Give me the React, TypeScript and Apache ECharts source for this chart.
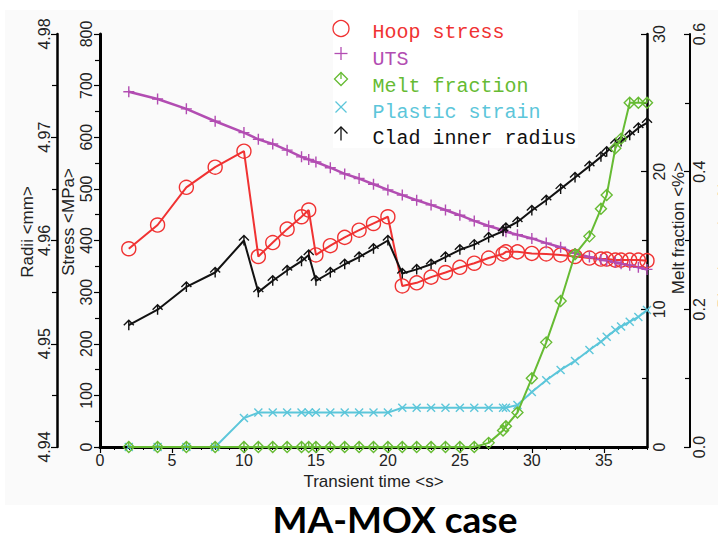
import React, { useEffect, useRef } from "react";
import * as echarts from "echarts";

const W = 718;
const H = 539;

// Transient time steps (s)
const TIME = [
  2, 4, 6, 8, 10, 11, 12, 13, 14, 14.5, 15, 16, 17, 18, 19, 20, 21, 22, 23, 24,
  25, 26, 27, 28, 28.2, 29, 30, 31, 32, 33, 34, 34.8, 35.2, 35.8, 36.2, 36.8,
  37.4, 38,
];

// Hoop stress (MPa)
const HOOP = [
  384, 430, 503, 542, 573, 369, 396, 422, 446, 459, 372, 390, 406, 420, 433, 446,
  312, 318, 329, 338, 348, 356, 366, 374, 378, 378, 375, 374, 372, 369, 366, 364,
  364, 362, 362, 362, 362, 361,
];

// Ultimate tensile strength (MPa)
const UTS = [
  688, 674, 655, 631, 609, 596, 587, 575, 562, 557, 552, 541, 529, 520, 509, 498,
  488, 478, 469, 459, 449, 438, 428, 420, 417, 411, 404, 395, 387, 375, 368, 363,
  361, 358, 355, 352, 348, 344,
];

// Melt fraction (%)
const MELT = [
  0, 0, 0, 0, 0, 0, 0, 0, 0, 0, 0, 0, 0, 0, 0, 0, 0, 0, 0, 0, 0, 0, 0.3, 1.2,
  1.5, 2.5, 5.0, 7.6, 10.6, 14.0, 15.3, 17.3, 18.3, 21.7, 22.4, 25.0, 25.0, 25.0,
];

// Plastic strain (%)
const PLASTIC = [
  0, 0, 0, 0, 0.042, 0.05, 0.05, 0.05, 0.05, 0.05, 0.05, 0.05, 0.05, 0.05, 0.05,
  0.05, 0.057, 0.057, 0.057, 0.057, 0.057, 0.057, 0.057, 0.057, 0.057, 0.061,
  0.08, 0.097, 0.112, 0.125, 0.141, 0.153, 0.16, 0.17, 0.175, 0.182, 0.189, 0.199,
];

// Clad inner radius (mm)
const RADIUS = [
  4.9518, 4.9533, 4.9555, 4.9569, 4.96, 4.955, 4.9561, 4.9571, 4.958, 4.9586,
  4.9561, 4.9569, 4.9577, 4.9584, 4.9592, 4.96, 4.9568, 4.9572, 4.9577, 4.9584,
  4.9591, 4.9596, 4.9603, 4.9609, 4.9612, 4.9618, 4.9629, 4.9639, 4.965, 4.9661,
  4.9672, 4.9681, 4.9686, 4.9694, 4.9696, 4.9702, 4.9709, 4.9714,
];

const RED = "#f03232";
const PURPLE = "#b24db2";
const GREEN = "#66bb33";
const CYAN = "#5cc6da";
const BLACK = "#111111";

const SANS = "'Liberation Sans', Arial, sans-serif";
const MONO = "'Liberation Mono', 'DejaVu Sans Mono', monospace";

const SYM_PLUS = "path://M5,0L5,10M0,5L10,5";
const SYM_DIAMOND = "path://M5,0L10,5L5,10L0,5ZM5,0L5,5";
const SYM_CROSS = "path://M0,0L10,10M10,0L0,10";
const SYM_ARROW = "path://M0,5L5,0L10,5M5,0L5,10";

const pairs = (vals: number[]) => TIME.map((t, i) => [t, vals[i]]);

function lineSeries(
  name: string,
  vals: number[],
  yAxisIndex: number,
  color: string,
  symbol: string,
  symbolSize: number,
  width: number,
  z: number
) {
  return {
    name,
    type: "line",
    xAxisIndex: 0,
    yAxisIndex,
    data: pairs(vals),
    symbol,
    symbolSize,
    showAllSymbol: true,
    z,
    lineStyle: { color, width },
    itemStyle: { color: "rgba(0,0,0,0)", borderColor: color, borderWidth: 1.4 },
    emphasis: { disabled: true },
  };
}

const labelStyle = { color: "#222", fontFamily: SANS, fontSize: 16 };

function yAxis(
  position: "left" | "right",
  offset: number,
  min: number,
  max: number,
  interval: number,
  digits: number | null,
  margin: number,
  inside: boolean,
  lineWidth: number
) {
  return {
    type: "value",
    position,
    offset,
    min,
    max,
    interval,
    axisLine: { show: true, onZero: false, lineStyle: { color: "#000", width: lineWidth } },
    axisTick: { show: true, inside, length: 6, lineStyle: { color: "#000", width: 1.2 } },
    minorTick: { show: true, splitNumber: 2, length: 5, lineStyle: { color: "#000", width: 1.2 } },
    splitLine: { show: false },
    minorSplitLine: { show: false },
    axisLabel: {
      ...labelStyle,
      rotate: 90,
      margin,
      formatter: (v: number) => (digits === null ? String(Math.round(v)) : v.toFixed(digits)),
    },
  };
}

// Legend entries drawn as graphics: marker strokes plus coloured text
function legendGraphics() {
  const mx = 341;
  const tx = 372.5;
  const rows = [
    { text: "Hoop stress", color: RED, ty: 32.5, my: 28.5 },
    { text: "UTS", color: PURPLE, ty: 59, my: 53.5 },
    { text: "Melt fraction", color: GREEN, ty: 86, my: 79 },
    { text: "Plastic strain", color: CYAN, ty: 112.5, my: 107 },
    { text: "Clad inner radius", color: BLACK, ty: 138.5, my: 133.5 },
  ];
  const els: any[] = [
    {
      type: "rect",
      shape: { x: 333, y: 10, width: 245, height: 138 },
      style: { fill: "#ffffff" },
      silent: true,
    },
  ];
  const stroke = (c: string) => ({ stroke: c, lineWidth: 1.3, fill: "none" });
  const [r0, r1, r2, r3, r4] = rows;
  els.push({ type: "circle", shape: { cx: mx, cy: r0.my, r: 8 }, style: stroke(r0.color) });
  els.push({ type: "line", shape: { x1: mx - 6.5, y1: r1.my, x2: mx + 6.5, y2: r1.my }, style: stroke(r1.color) });
  els.push({ type: "line", shape: { x1: mx, y1: r1.my - 6.5, x2: mx, y2: r1.my + 6.5 }, style: stroke(r1.color) });
  els.push({
    type: "polygon",
    shape: { points: [[mx, r2.my - 6.5], [mx + 6.5, r2.my], [mx, r2.my + 6.5], [mx - 6.5, r2.my]] },
    style: stroke(r2.color),
  });
  els.push({ type: "line", shape: { x1: mx, y1: r2.my - 6.5, x2: mx, y2: r2.my }, style: stroke(r2.color) });
  els.push({ type: "line", shape: { x1: mx - 5.5, y1: r3.my - 5.5, x2: mx + 5.5, y2: r3.my + 5.5 }, style: stroke(r3.color) });
  els.push({ type: "line", shape: { x1: mx + 5.5, y1: r3.my - 5.5, x2: mx - 5.5, y2: r3.my + 5.5 }, style: stroke(r3.color) });
  els.push({
    type: "polyline",
    shape: { points: [[mx - 6.5, r4.my], [mx, r4.my - 6.5], [mx + 6.5, r4.my]] },
    style: stroke(r4.color),
  });
  els.push({ type: "line", shape: { x1: mx, y1: r4.my - 6.5, x2: mx, y2: r4.my + 7 }, style: stroke(r4.color) });
  rows.forEach((r) =>
    els.push({
      type: "text",
      x: tx,
      y: r.ty,
      style: {
        text: r.text,
        fill: r.color,
        font: `20px ${MONO}`,
        align: "left",
        verticalAlign: "middle",
      },
    })
  );
  return els;
}

function axisTitle(text: string, x: number, y: number) {
  return {
    type: "text",
    x,
    y,
    rotation: Math.PI / 2,
    style: {
      text,
      fill: "#222",
      font: `17px ${SANS}`,
      align: "center",
      verticalAlign: "middle",
    },
  };
}

export default function App() {
  const ref = useRef<HTMLDivElement>(null);

  useEffect(() => {
    if (!ref.current) return;
    const chart = echarts.init(ref.current, null, { renderer: "svg", width: W, height: H });
    const option: any = {
      animation: false,
      grid: { left: 100, right: 71, top: 34, bottom: 92, containLabel: false },
      xAxis: [
        {
          type: "value",
          position: "bottom",
          min: 0,
          max: 38,
          interval: 5,
          axisLine: { show: true, onZero: false, lineStyle: { color: "#000", width: 3 } },
          axisTick: { show: true, length: 6, lineStyle: { color: "#000", width: 1.2 } },
          splitLine: { show: false },
          axisLabel: { ...labelStyle, margin: 5, showMaxLabel: false },
          name: "Transient time <s>",
          nameLocation: "middle",
          nameGap: 23,
          nameTextStyle: { color: "#222", fontFamily: SANS, fontSize: 17 },
        },
        {
          type: "value",
          position: "bottom",
          min: 0,
          max: 38,
          interval: 1,
          axisLine: { show: false },
          axisTick: { show: true, length: 3, lineStyle: { color: "#000", width: 1 } },
          axisLabel: { show: false },
          splitLine: { show: false },
        },
      ],
      yAxis: [
        yAxis("left", 0, 0, 800, 100, null, 6, false, 3),
        yAxis("left", 43, 4.94, 4.98, 0.01, 2, 5, false, 2.5),
        yAxis("right", 0, 0, 30, 10, null, 4, true, 2.5),
        yAxis("right", 43, 0, 0.6, 0.2, 1, 1, true, 2),
      ],
      series: [
        lineSeries("Hoop stress", HOOP, 0, RED, "circle", 14, 2, 3),
        lineSeries("UTS", UTS, 0, PURPLE, SYM_PLUS, 11, 2.5, 3),
        lineSeries("Plastic strain", PLASTIC, 3, CYAN, SYM_CROSS, 8, 2, 4),
        lineSeries("Clad inner radius", RADIUS, 1, BLACK, SYM_ARROW, 10, 2, 5),
        lineSeries("Melt fraction", MELT, 2, GREEN, SYM_DIAMOND, 11, 2, 6),
      ],
      graphic: {
        elements: [
          ...legendGraphics(),
          axisTitle("Radii <mm>", 27, 232),
          axisTitle("Stress <MPa>", 68, 222),
          axisTitle("Melt fraction <%>", 678, 228),
          axisTitle("Plastic strain <%>", 724, 240),
          {
            type: "text",
            x: 395,
            y: 518,
            style: {
              text: "MA-MOX case",
              fill: "#000",
              font: `bold 37px Lato, 'Open Sans', sans-serif`,
              align: "center",
              verticalAlign: "middle",
            },
          },
        ],
      },
    };
    chart.setOption(option);
    return () => chart.dispose();
  }, []);

  return (
    <div style={{ position: "absolute", left: 0, top: 0, width: W, height: H, background: "#ffffff", overflow: "hidden" }}>
      <div style={{ position: "absolute", left: 5, top: 10, width: 713, height: 495, background: "#fafafa" }} />
      <div ref={ref} style={{ position: "absolute", left: 0, top: 0, width: W, height: H }} />
    </div>
  );
}
